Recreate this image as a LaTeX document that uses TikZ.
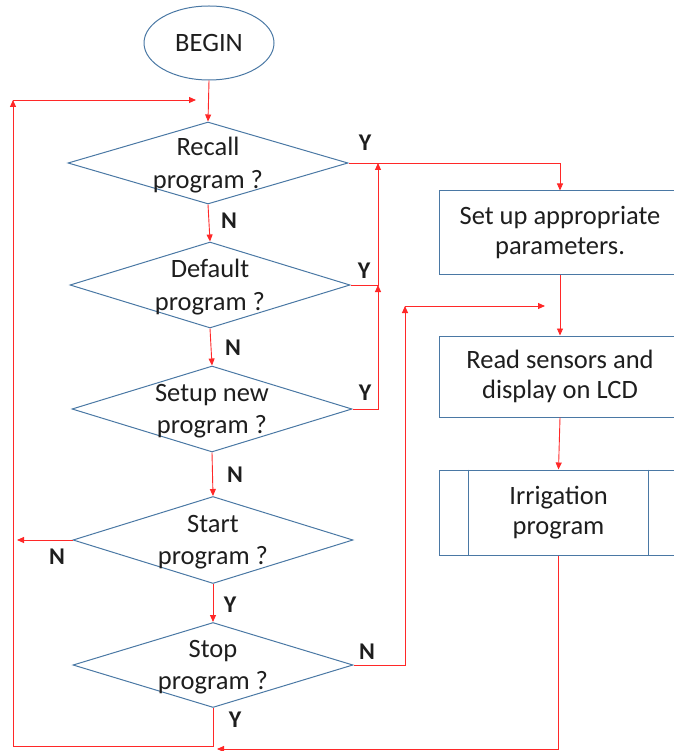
\documentclass[tikz,border=0pt]{standalone}
\usepackage{fontspec}
\setmainfont{Carlito}
\usetikzlibrary{shapes.geometric,arrows.meta}
\definecolor{shapeblue}{RGB}{74,120,164}
\definecolor{linered}{RGB}{255,40,40}
\definecolor{txtgrey}{RGB}{30,30,30}
\begin{document}
\begin{tikzpicture}[x=1pt,y=-1pt,
  txt/.style={font=\fontsize{26.5}{29.5}\selectfont, text=txtgrey, align=center},
  dtxt/.style={font=\fontsize{26.5}{32.5}\selectfont, text=txtgrey, align=center},
  yn/.style={font=\bfseries\fontsize{24}{24}\selectfont, text=txtgrey, inner sep=0pt},
  dia/.style={draw=shapeblue, line width=1pt, diamond, inner sep=0pt, minimum width=280pt, minimum height=84pt},
  box/.style={draw=shapeblue, line width=1pt, rectangle, inner sep=0pt, minimum width=242pt, minimum height=83pt, txt},
  arr/.style={draw=linered, line width=0.9pt, -{Triangle[length=7pt,width=6pt]}},
  lin/.style={draw=linered, line width=0.9pt}
]
\useasboundingbox (0,0) rectangle (673,751);

\node[draw=shapeblue, line width=1pt, ellipse, minimum width=130pt, minimum height=74pt, inner sep=0pt, txt] (begin) at (209,43) {BEGIN};

\node[dia, minimum height=82pt, label={[dtxt,yshift=-2pt]center:Recall\\program ?}] (d1) at (208,163) {};
\node[dia, minimum height=86pt, label={[dtxt,yshift=-2pt]center:Default\\program ?}] (d2) at (210,285) {};
\node[dia, minimum height=86pt, label={[dtxt,yshift=-2pt]center:Setup new\\program ?}] (d3) at (212,409) {};
\node[dia, minimum height=87pt, label={[dtxt,yshift=-2pt]center:Start\\program ?}] (d4) at (213,540) {};
\node[dia, minimum height=85pt, label={[dtxt,yshift=-2pt]center:Stop\\program ?}] (d5) at (213,665) {};

\node[box] (b1) at (560,232.5) {Set up appropriate\\parameters.};
\node[box, minimum height=81pt] (b2) at (560,376.5) {Read sensors and\\display on LCD};
\node[box, minimum width=239pt, minimum height=85pt] (b3) at (558.5,512.5) {Irrigation\\program};
\draw[draw=shapeblue, line width=1pt] ([xshift=30pt]b3.north west) -- ([xshift=30pt]b3.south west);
\draw[draw=shapeblue, line width=1pt] ([xshift=-30pt]b3.north east) -- ([xshift=-30pt]b3.south east);

% coordinates
\coordinate (jy1) at (378,163);
\coordinate (jy2) at (378,285);
\coordinate (sn1) at (405,306);
\coordinate (sn2) at (545,306);
\coordinate (n4) at (17,540);
\coordinate (lb) at (13,746);
\coordinate (lt) at (13,100);
\coordinate (ltr) at (196,100);
\coordinate (rbe) at (217,749);

% main flow
\draw[arr] (begin.south) -- (d1.north);
\draw[arr] (d1.south) -- (d2.north);
\draw[arr] (d2.south) -- (d3.north);
\draw[arr] (d3.south) -- (d4.north);
\draw[arr] (d4.south) -- (d5.north);
\draw[arr] (d1.east) -| (b1.north);
\draw[arr] (d2.east) -| (jy1);
\draw[arr] (d3.east) -| (jy2);
\draw[arr] (b1.south) -- (b2.north);
\draw[arr] (b2.south) -- (b3.north);
\draw[arr] (d5.east) -| (sn1);
\draw[arr] (sn1) -- (sn2);
\draw[arr] (d4.west) -- (n4);
\draw[arr] (d5.south) |- (lb) -- (lt);
\draw[arr] (lt) -- (ltr);
\draw[arr] (b3.south) |- (rbe);

% labels
\node[yn] (y1) at (365,143) {Y};
\node[yn] (y2) at (364,271) {Y};
\node[yn] (y3) at (365,393) {Y};
\node[yn] (n1) at (229,221) {N};
\node[yn] (n2) at (233,348) {N};
\node[yn] (n3) at (235,475) {N};
\node[yn] (n4l) at (57,557) {N};
\node[yn] (y4) at (230,605) {Y};
\node[yn] (n5) at (367,652) {N};
\node[yn] (y5) at (235,720) {Y};
\end{tikzpicture}
\end{document}
